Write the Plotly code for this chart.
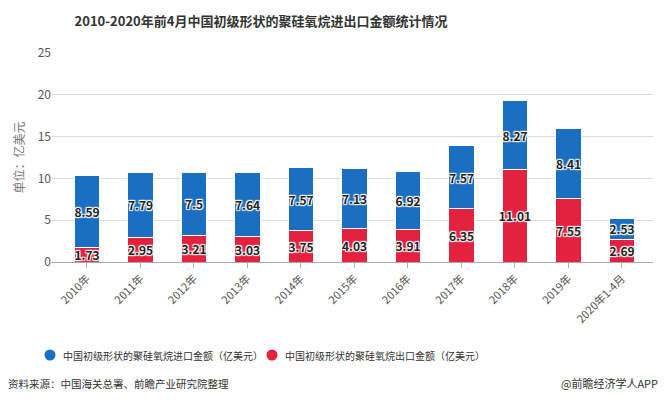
import plotly.graph_objects as go

categories = ["2010年", "2011年", "2012年", "2013年", "2014年", "2015年", "2016年",
              "2017年", "2018年", "2019年", "2020年1-4月"]
import_values = [8.59, 7.79, 7.5, 7.64, 7.57, 7.13, 6.92, 7.57, 8.27, 8.41, 2.53]
export_values = [1.73, 2.95, 3.21, 3.03, 3.75, 4.03, 3.91, 6.35, 11.01, 7.55, 2.69]
import_name = "中国初级形状的聚硅氧烷进口金额（亿美元）"
export_name = "中国初级形状的聚硅氧烷出口金额（亿美元）"

BLUE = "#1b6fc2"
RED = "#e4213f"
FONT = "Noto Sans CJK SC"
halo = "1px 1px 1px #fff, -1px -1px 1px #fff, 1px -1px 1px #fff, -1px 1px 1px #fff, 0 0 2px #fff"

W, H = 664, 406
L, R, T, B = 52, 11, 53, 144
PW, PH = W - L - R, H - T - B


def px(x):
    return (x - L) / PW


def py(y):
    return (H - B - y) / PH


fig = go.Figure()
fig.add_trace(go.Bar(
    x=categories, y=export_values, name=export_name, marker=dict(color=RED, line=dict(color="#fff", width=1)),
    text=[f"{v:g}" for v in export_values], textposition="inside", insidetextanchor="middle",
    constraintext="none", textangle=0,
    textfont=dict(family=FONT, size=12, color="#222", weight="bold", shadow=halo),
    width=0.47, showlegend=False, cliponaxis=False,
))
fig.add_trace(go.Bar(
    x=categories, y=import_values, name=import_name, marker=dict(color=BLUE, line=dict(color="#fff", width=1)),
    text=[f"{v:g}" for v in import_values], textposition="inside", insidetextanchor="middle",
    constraintext="none", textangle=0,
    textfont=dict(family=FONT, size=12, color="#222", weight="bold", shadow=halo),
    width=0.47, showlegend=False, cliponaxis=False,
))

# manual legend (circle markers + labels)
legend_items = [(import_name, BLUE, 50), (export_name, RED, 272)]
shapes = []
annotations = []
for name, color, cx in legend_items:
    r = 5.5
    shapes.append(dict(type="circle", xref="paper", yref="paper",
                       x0=px(cx - r), x1=px(cx + r), y0=py(355 + r), y1=py(355 - r),
                       fillcolor=color, line=dict(width=0)))
    annotations.append(dict(text=name, xref="paper", yref="paper", x=px(cx + 11), y=py(355),
                            xanchor="left", yanchor="middle", showarrow=False,
                            font=dict(family=FONT, size=10, color="#333")))

annotations += [
    dict(text="资料来源：中国海关总署、前瞻产业研究院整理", xref="paper", yref="paper",
         x=px(6), y=py(383), xanchor="left", yanchor="middle", showarrow=False,
         font=dict(family=FONT, size=10.5, color="#333")),
    dict(text="@前瞻经济学人APP", xref="paper", yref="paper",
         x=px(660), y=py(383), xanchor="right", yanchor="middle", showarrow=False,
         font=dict(family=FONT, size=11, color="#333")),
]

fig.update_layout(
    width=W, height=H,
    barmode="stack",
    paper_bgcolor="#fff", plot_bgcolor="#fff",
    margin=dict(l=L, r=R, t=T, b=B),
    font=dict(family=FONT, color="#333"),
    showlegend=False,
    title=dict(text="<b>2010-2020年前4月中国初级形状的聚硅氧烷进出口金额统计情况</b>",
               x=261 / W, xanchor="center", y=1 - 21 / H, yanchor="middle",
               font=dict(family=FONT, size=13, color="#333")),
    xaxis=dict(range=[-0.654, 10.58], showgrid=False, showline=True, linecolor="#aaa", linewidth=1,
               ticks="outside", ticklen=5, tickcolor="#aaa", tickangle=-45,
               tickfont=dict(family=FONT, size=11, color="#555")),
    yaxis=dict(range=[0, 25], dtick=5, showgrid=True, gridcolor="#ddd", zeroline=False,
               showline=False, tickfont=dict(family=FONT, size=12, color="#555"),
               title=dict(text="单位：亿美元", font=dict(family=FONT, size=12, color="#777"), standoff=10)),
    shapes=shapes,
    annotations=annotations,
)

fig.write_html("out.html", config={"displayModeBar": False},
               post_script="document.body.style.margin='0';document.body.style.overflow='hidden';")
